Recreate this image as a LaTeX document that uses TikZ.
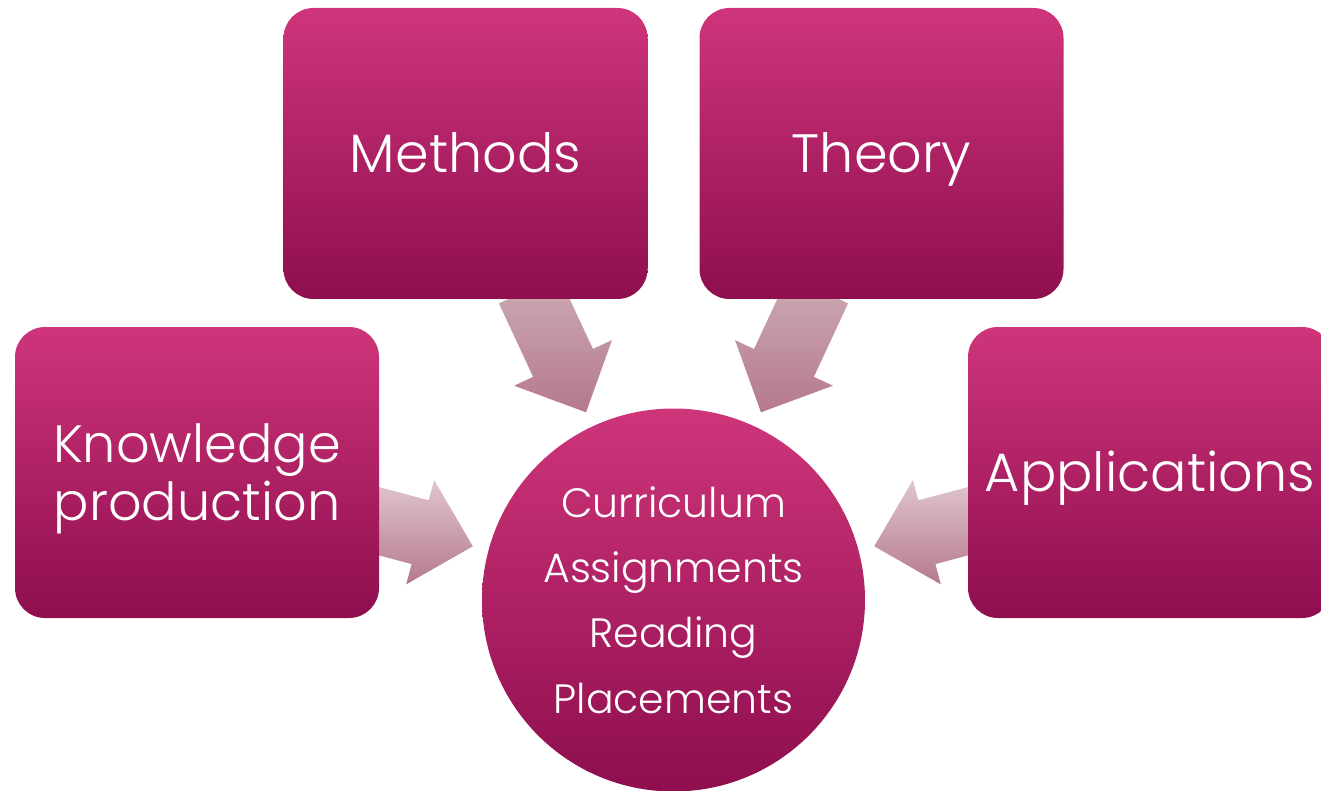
\documentclass[tikz,border=0pt]{standalone}
\usepackage{fontspec}
\setmainfont{Poppins Light}
\usetikzlibrary{calc}
\definecolor{boxtop}{RGB}{206,53,122}
\definecolor{boxbot}{RGB}{142,14,78}
\definecolor{arrtopA}{RGB}{205,171,181}
\definecolor{arrtopB}{RGB}{224,198,207}
\definecolor{arrbot}{RGB}{181,121,142}
\newcommand\blockarr[3]{%
  \coordinate (a1) at ($(#1)!150pt!(#2)$);
  \coordinate (a2) at ($(#1)!231pt!(#2)$);
  \coordinate (a3) at ($(#1)!285.5pt!(#2)$);
  \path[#3] ($(a1)!33pt!90:(#2)$) -- ($(a2)!33pt!90:(#2)$) -- ($(a2)!54pt!90:(#2)$)
    -- (a3) -- ($(a2)!54pt!-90:(#2)$) -- ($(a2)!33pt!-90:(#2)$) -- ($(a1)!33pt!-90:(#2)$) -- cycle;
}
\begin{document}
\begin{tikzpicture}[x=1pt,y=-1pt,
  blk/.style={rectangle, rounded corners=30pt, top color=boxtop, bottom color=boxbot,
    draw=none, minimum width=364pt, minimum height=291pt, inner sep=0pt,
    text=white, align=center, text depth=0pt},
  hubstyle/.style={circle, top color=boxtop, bottom color=boxbot, draw=none,
    minimum size=383pt, inner sep=0pt},
  hubtxt/.style={anchor=base, inner sep=0pt, text=white, font=\fontsize{41}{65}\selectfont},
  kntxt/.style={anchor=base, inner sep=0pt, text=white, font=\fontsize{52.5}{58}\selectfont},
  arrA/.style={top color=arrtopA, bottom color=arrbot, draw=none},
  arrB/.style={top color=arrtopB, bottom color=arrbot, draw=none}
]
\useasboundingbox (0,0) rectangle (1321,791);
\clip (0,0) rectangle (1321,791);
% reference points (centres)
\coordinate (mC) at (465.5,153.5);
\coordinate (tC) at (881.5,153.5);
\coordinate (kC) at (197,472.5);
\coordinate (aC) at (1150,472.5);
\coordinate (hC) at (673.5,600);
% arrows (behind boxes)
\blockarr{mC}{hC}{arrA}
\blockarr{tC}{hC}{arrA}
\blockarr{kC}{hC}{arrB}
\blockarr{aC}{hC}{arrB}
% boxes
\node[blk, text height=38pt, font=\fontsize{54}{58}\selectfont] (meth) at (mC) {Methods};
\node[blk, text height=38pt, font=\fontsize{54}{58}\selectfont] (theo) at (tC) {Theory};
\node[blk] (know) at (kC) {};
\node[kntxt] (know1) at (197,462) {Knowledge};
\node[kntxt] (know2) at (197,520) {production};
\node[blk, text height=38pt, font=\fontsize{54}{58}\selectfont] (appl) at (aC) {Applications};
% hub
\node[hubstyle] (hub) at (hC) {};
\node[hubtxt] (h1) at (673.5,517) {Curriculum};
\node[hubtxt] (h2) at (673.5,582) {Assignments};
\node[hubtxt] (h3) at (673.5,647) {Reading};
\node[hubtxt] (h4) at (673.5,713) {Placements};
\end{tikzpicture}
\end{document}
